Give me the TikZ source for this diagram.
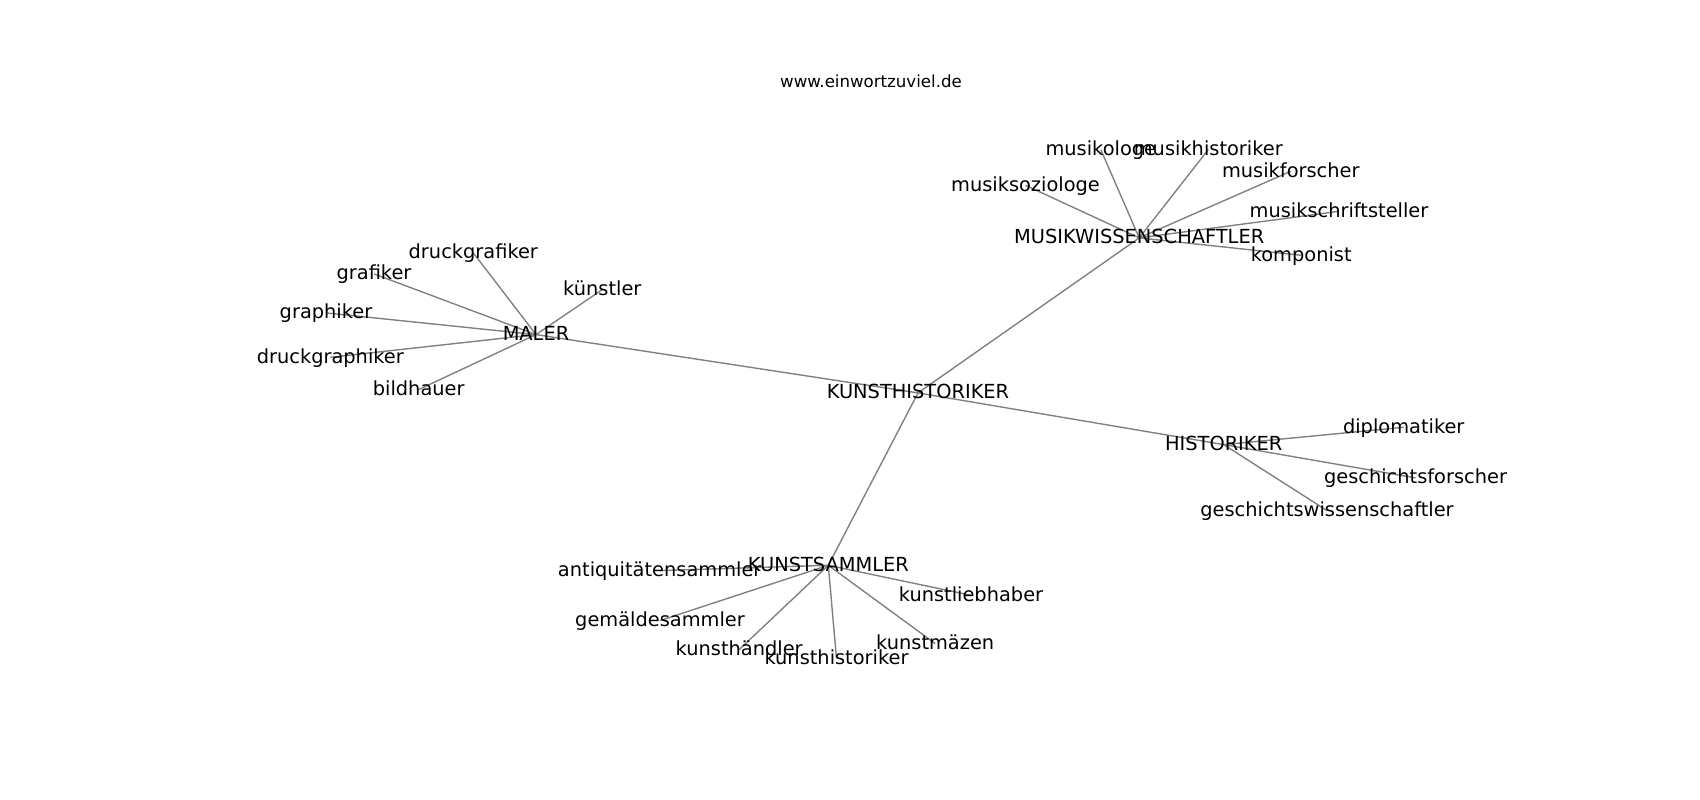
\documentclass[tikz,border=0pt]{standalone}
\usepackage{fontspec}
\setmainfont{DejaVu Sans}
\begin{document}
\begin{tikzpicture}[x=0.01in,y=-0.01in,
  edge/.style={draw=black!50,line width=1pt},
  lbl/.style={anchor=base,inner sep=0pt,yshift=-4.4pt,font=\fontsize{14pt}{16pt}\selectfont},
  ttl/.style={anchor=base,inner sep=0pt,font=\fontsize{12pt}{14pt}\selectfont}]
\useasboundingbox (0,0) rectangle (1700,800);
% node positions
\coordinate (kh) at (918,392.9);
\coordinate (maler) at (536,334.6);
\coordinate (musik) at (1139.2,237.9);
\coordinate (hist) at (1223.7,444.6);
\coordinate (ks) at (828.3,565.3);
\coordinate (m1) at (1100.8,149.6);
\coordinate (m2) at (1208.3,149.6);
\coordinate (m3) at (1290.8,171.3);
\coordinate (m4) at (1025.5,185.3);
\coordinate (m5) at (1339,211.3);
\coordinate (m6) at (1301.2,255.3);
\coordinate (a1) at (473.3,252.9);
\coordinate (a2) at (374,273.9);
\coordinate (a3) at (602.3,289.6);
\coordinate (a4) at (326,312.9);
\coordinate (a5) at (330.3,357.3);
\coordinate (a6) at (418.7,389.6);
\coordinate (h1) at (1403.7,427.3);
\coordinate (h2) at (1415.5,477.9);
\coordinate (h3) at (1327,510.6);
\coordinate (k1) at (659.7,570.6);
\coordinate (k2) at (971,595.3);
\coordinate (k3) at (660,620.6);
\coordinate (k4) at (739.2,649.6);
\coordinate (k5) at (836.5,658.6);
\coordinate (k6) at (935.2,643.6);
% edges
\foreach \a/\b in {kh/maler,kh/musik,kh/hist,kh/ks,
  maler/a1,maler/a2,maler/a3,maler/a4,maler/a5,maler/a6,
  musik/m1,musik/m2,musik/m3,musik/m4,musik/m5,musik/m6,
  hist/h1,hist/h2,hist/h3,
  ks/k1,ks/k2,ks/k3,ks/k4,ks/k5,ks/k6}
  \draw[edge] (\a) -- (\b);
% labels
\node[lbl] (kh-t) at (kh) {KUNSTHISTORIKER};
\node[lbl] (maler-t) at (maler) {MALER};
\node[lbl] (musik-t) at (musik) {MUSIKWISSENSCHAFTLER};
\node[lbl] (hist-t) at (hist) {HISTORIKER};
\node[lbl] (ks-t) at (ks) {KUNSTSAMMLER};
\node[lbl] (m1-t) at (m1) {musikologe};
\node[lbl] (m2-t) at (m2) {musikhistoriker};
\node[lbl] (m3-t) at (m3) {musikforscher};
\node[lbl] (m4-t) at (m4) {musiksoziologe};
\node[lbl] (m5-t) at (m5) {musikschriftsteller};
\node[lbl] (m6-t) at (m6) {komponist};
\node[lbl] (a1-t) at (a1) {druckgrafiker};
\node[lbl] (a2-t) at (a2) {grafiker};
\node[lbl] (a3-t) at (a3) {künstler};
\node[lbl] (a4-t) at (a4) {graphiker};
\node[lbl] (a5-t) at (a5) {druckgraphiker};
\node[lbl] (a6-t) at (a6) {bildhauer};
\node[lbl] (h1-t) at (h1) {diplomatiker};
\node[lbl] (h2-t) at (h2) {geschichtsforscher};
\node[lbl] (h3-t) at (h3) {geschichtswissenschaftler};
\node[lbl] (k1-t) at (k1) {antiquitätensammler};
\node[lbl] (k2-t) at (k2) {kunstliebhaber};
\node[lbl] (k3-t) at (k3) {gemäldesammler};
\node[lbl] (k4-t) at (k4) {kunsthändler};
\node[lbl] (k5-t) at (k5) {kunsthistoriker};
\node[lbl] (k6-t) at (k6) {kunstmäzen};
% title
\node[ttl] (title) at (871,87.3) {www.einwortzuviel.de};
\end{tikzpicture}
\end{document}
